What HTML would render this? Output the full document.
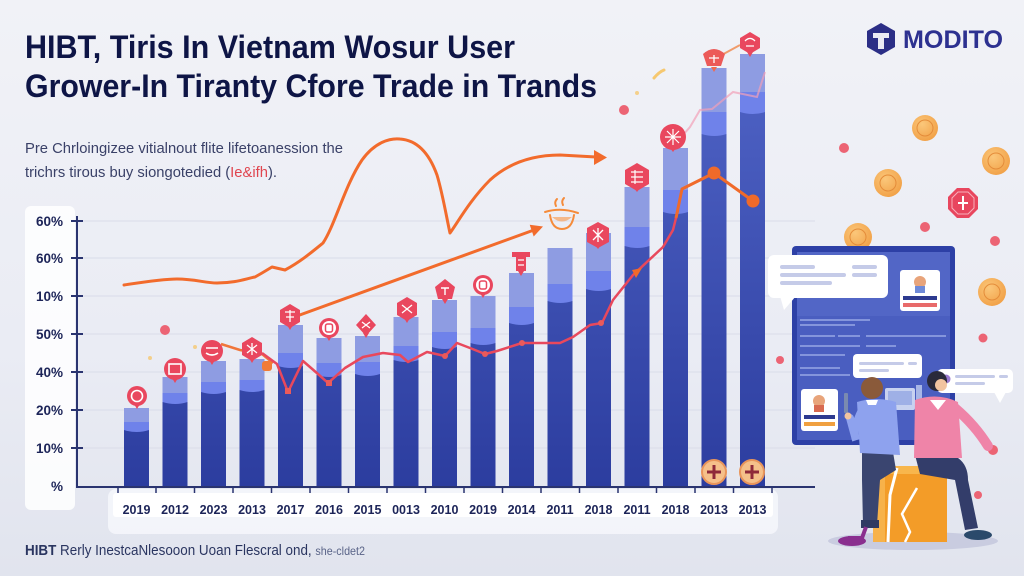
<!DOCTYPE html>
<html><head><meta charset="utf-8"><style>
html,body{margin:0;padding:0;width:1024px;height:576px;overflow:hidden;background:#eceef5}
svg{display:block}
text{font-family:"Liberation Sans",Arial,sans-serif}
</style></head><body>
<svg width="1024" height="576" viewBox="0 0 1024 576" xmlns="http://www.w3.org/2000/svg">
<defs>
<linearGradient id="bg" x1="0" y1="0" x2="0" y2="1"><stop offset="0" stop-color="#f1f2f7"/><stop offset="0.6" stop-color="#eaecf4"/><stop offset="1" stop-color="#e1e4ee"/></linearGradient>
<linearGradient id="dk" gradientUnits="userSpaceOnUse" x1="0" y1="54" x2="0" y2="486"><stop offset="0" stop-color="#5064c6"/><stop offset="1" stop-color="#2c3d9f"/></linearGradient>
<radialGradient id="coin" cx="0.4" cy="0.35" r="0.7"><stop offset="0" stop-color="#fbc77a"/><stop offset="1" stop-color="#f1a046"/></radialGradient>
</defs>
<rect width="1024" height="576" fill="url(#bg)"/>

<!-- Title -->
<text x="25" y="58" font-size="32" font-weight="bold" fill="#0e1546" textLength="490" lengthAdjust="spacingAndGlyphs">HIBT, Tiris In Vietnam Wosur User</text>
<text x="25" y="97" font-size="32" font-weight="bold" fill="#0e1546" textLength="572" lengthAdjust="spacingAndGlyphs">Grower-In Tiranty Cfore Trade in Trands</text>
<text x="25" y="153" font-size="14.5" fill="#3a4168" textLength="318" lengthAdjust="spacingAndGlyphs">Pre Chrloingizee vitialnout flite lifetoanession the</text>
<text x="25" y="177" font-size="14.5" fill="#3a4168" textLength="252" lengthAdjust="spacingAndGlyphs">trichrs tirous buy siongotedied (<tspan fill="#e0454f">Ie&amp;ifh</tspan>).</text>

<!-- Logo -->
<polygon points="881,23 895,31 895,47 881,55 867,47 867,31" fill="#2b2e86"/>
<path d="M873,33 L889,33 L889,38 L884,38 L884,49 L878,49 L878,38 L873,38 Z" fill="#ffffff" opacity="0.9"/>
<text x="903" y="48" font-size="25" font-weight="bold" fill="#2d3190" textLength="100" lengthAdjust="spacingAndGlyphs">MODITO</text>

<!-- Panels -->
<rect x="25" y="206" width="50" height="304" rx="6" fill="#ffffff" opacity="0.85"/>
<rect x="108" y="489" width="670" height="45" rx="8" fill="#f6f7fb" opacity="0.85"/>
<rect x="113" y="493" width="660" height="24" rx="3" fill="#ffffff"/>

<!-- Grid -->
<g stroke="#d9dce9" stroke-width="1">
<line x1="82" y1="221" x2="815" y2="221"/><line x1="82" y1="258" x2="815" y2="258"/>
<line x1="82" y1="296" x2="815" y2="296"/><line x1="82" y1="334" x2="815" y2="334"/>
<line x1="82" y1="372" x2="815" y2="372"/><line x1="82" y1="410" x2="815" y2="410"/>
<line x1="82" y1="448" x2="815" y2="448"/>
</g>

<!-- Y labels -->
<g font-size="13.5" font-weight="bold" fill="#1c2458" text-anchor="end">
<text x="63" y="226">60%</text><text x="63" y="263">60%</text><text x="63" y="301">10%</text>
<text x="63" y="339">50%</text><text x="63" y="377">40%</text><text x="63" y="415">20%</text>
<text x="63" y="453">10%</text><text x="63" y="491">%</text>
</g>

<!-- Bars -->
<g id="bars">
<rect x="124" y="408" width="25" height="78" fill="url(#dk)"/><rect x="124" y="408" width="25" height="14" fill="#8e9ce2"/><path d="M124,422 h25 v8 q-12,4 -25,0 z" fill="#6f82ea"/>
<rect x="162.5" y="377" width="25" height="109" fill="url(#dk)"/><rect x="162.5" y="377" width="25" height="16" fill="#8e9ce2"/><path d="M162.5,393 h25 v9 q-12,4 -25,0 z" fill="#6f82ea"/>
<rect x="201" y="361" width="25" height="125" fill="url(#dk)"/><rect x="201" y="361" width="25" height="21" fill="#8e9ce2"/><path d="M201,382 h25 v10 q-12,4 -25,0 z" fill="#6f82ea"/>
<rect x="239.5" y="359" width="25" height="127" fill="url(#dk)"/><rect x="239.5" y="359" width="25" height="21" fill="#8e9ce2"/><path d="M239.5,380 h25 v10 q-12,4 -25,0 z" fill="#6f82ea"/>
<rect x="278" y="325" width="25" height="161" fill="url(#dk)"/><rect x="278" y="325" width="25" height="28" fill="#8e9ce2"/><path d="M278,353 h25 v13 q-12,4 -25,0 z" fill="#6f82ea"/>
<rect x="316.5" y="338" width="25" height="148" fill="url(#dk)"/><rect x="316.5" y="338" width="25" height="25" fill="#8e9ce2"/><path d="M316.5,363 h25 v12 q-12,4 -25,0 z" fill="#6f82ea"/>
<rect x="355" y="336" width="25" height="150" fill="url(#dk)"/><rect x="355" y="336" width="25" height="26" fill="#8e9ce2"/><path d="M355,362 h25 v12 q-12,4 -25,0 z" fill="#6f82ea"/>
<rect x="393.5" y="317" width="25" height="169" fill="url(#dk)"/><rect x="393.5" y="317" width="25" height="29" fill="#8e9ce2"/><path d="M393.5,346 h25 v14 q-12,4 -25,0 z" fill="#6f82ea"/>
<rect x="432" y="300" width="25" height="186" fill="url(#dk)"/><rect x="432" y="300" width="25" height="32" fill="#8e9ce2"/><path d="M432,332 h25 v15 q-12,4 -25,0 z" fill="#6f82ea"/>
<rect x="470.5" y="296" width="25" height="190" fill="url(#dk)"/><rect x="470.5" y="296" width="25" height="32" fill="#8e9ce2"/><path d="M470.5,328 h25 v15 q-12,4 -25,0 z" fill="#6f82ea"/>
<rect x="509" y="273" width="25" height="213" fill="url(#dk)"/><rect x="509" y="273" width="25" height="34" fill="#8e9ce2"/><path d="M509,307 h25 v16 q-12,4 -25,0 z" fill="#6f82ea"/>
<rect x="547.5" y="248" width="25" height="238" fill="url(#dk)"/><rect x="547.5" y="248" width="25" height="36" fill="#8e9ce2"/><path d="M547.5,284 h25 v17 q-12,4 -25,0 z" fill="#6f82ea"/>
<rect x="586" y="233" width="25" height="253" fill="url(#dk)"/><rect x="586" y="233" width="25" height="38" fill="#8e9ce2"/><path d="M586,271 h25 v18 q-12,4 -25,0 z" fill="#6f82ea"/>
<rect x="624.5" y="187" width="25" height="299" fill="url(#dk)"/><rect x="624.5" y="187" width="25" height="40" fill="#8e9ce2"/><path d="M624.5,227 h25 v19 q-12,4 -25,0 z" fill="#6f82ea"/>
<rect x="663" y="148" width="25" height="338" fill="url(#dk)"/><rect x="663" y="148" width="25" height="42" fill="#8e9ce2"/><path d="M663,190 h25 v22 q-12,4 -25,0 z" fill="#6f82ea"/>
<rect x="701.5" y="68" width="25" height="418" fill="url(#dk)"/><rect x="701.5" y="68" width="25" height="44" fill="#8e9ce2"/><path d="M701.5,112 h25 v22 q-12,4 -25,0 z" fill="#6f82ea"/>
<rect x="740" y="54" width="25" height="432" fill="url(#dk)"/><rect x="740" y="54" width="25" height="38" fill="#8e9ce2"/><path d="M740,92 h25 v20 q-12,4 -25,0 z" fill="#6f82ea"/>
</g>

<!-- Axes -->
<line x1="77" y1="216" x2="77" y2="487" stroke="#2a3470" stroke-width="2"/>
<line x1="76" y1="487" x2="815" y2="487" stroke="#2a3470" stroke-width="2"/>
<g stroke="#2a3470" stroke-width="2">
<line x1="71" y1="221" x2="83" y2="221"/><line x1="71" y1="258" x2="83" y2="258"/><line x1="71" y1="296" x2="83" y2="296"/>
<line x1="71" y1="334" x2="83" y2="334"/><line x1="71" y1="372" x2="83" y2="372"/><line x1="71" y1="410" x2="83" y2="410"/>
<line x1="71" y1="448" x2="83" y2="448"/>
</g>
<g stroke="#2a3470" stroke-width="1.5">
<line x1="118" y1="487" x2="118" y2="493"/><line x1="156" y1="487" x2="156" y2="493"/><line x1="194.5" y1="487" x2="194.5" y2="493"/>
<line x1="233" y1="487" x2="233" y2="493"/><line x1="271.5" y1="487" x2="271.5" y2="493"/><line x1="310" y1="487" x2="310" y2="493"/>
<line x1="348.5" y1="487" x2="348.5" y2="493"/><line x1="387" y1="487" x2="387" y2="493"/><line x1="425.5" y1="487" x2="425.5" y2="493"/>
<line x1="464" y1="487" x2="464" y2="493"/><line x1="502.5" y1="487" x2="502.5" y2="493"/><line x1="541" y1="487" x2="541" y2="493"/>
<line x1="579.5" y1="487" x2="579.5" y2="493"/><line x1="618" y1="487" x2="618" y2="493"/><line x1="656.5" y1="487" x2="656.5" y2="493"/>
<line x1="695" y1="487" x2="695" y2="493"/><line x1="733.5" y1="487" x2="733.5" y2="493"/><line x1="772" y1="487" x2="772" y2="493"/>
</g>

<!-- X labels -->
<g font-size="12.5" font-weight="bold" fill="#1c2458" text-anchor="middle">
<text x="136.5" y="514">2019</text><text x="175" y="514">2012</text><text x="213.5" y="514">2023</text>
<text x="252" y="514">2013</text><text x="290.5" y="514">2017</text><text x="329" y="514">2016</text>
<text x="367.5" y="514">2015</text><text x="406" y="514">0013</text><text x="444.5" y="514">2010</text>
<text x="483" y="514">2019</text><text x="521.5" y="514">2014</text><text x="560" y="514">2011</text>
<text x="598.5" y="514">2018</text><text x="637" y="514">2011</text><text x="675.5" y="514">2018</text>
<text x="714" y="514">2013</text><text x="752.5" y="514">2013</text>
</g>

<!-- Orange upper curve -->
<path d="M124,285 C150,281 165,279 177,279 C195,279 205,283 217,283 C235,283 245,279 255,277 L262,273 L272,267 L285,270 C300,262 312,252 323,243 C335,225 345,185 362,160 C375,142 390,138 400,139 C415,140 428,150 437,175 C443,195 447,220 450,233 C458,222 470,200 490,180 C510,162 535,155 560,155 L596,157" fill="none" stroke="#f26b2c" stroke-width="3" stroke-linecap="round" stroke-linejoin="round"/>
<polygon points="594,150 607,157.5 594,165" fill="#f26b2c"/>
<!-- Orange straight arrow -->
<line x1="297" y1="316" x2="534" y2="230" stroke="#f26b2c" stroke-width="3" stroke-linecap="round"/>
<polygon points="543,226.5 533.7,236.5 529.7,224.8" fill="#f26b2c"/>
<!-- Short orange segment -->
<polyline points="221,344 240,350 262,354 273,363" fill="none" stroke="#f0763a" stroke-width="2.5"/>
<rect x="262" y="361" width="10" height="10" rx="3" fill="#f27b36"/>

<!-- Faint pink line -->
<path d="M683,135 L690,127 L700,110 L712,109 L733,92 L757,97 L765,72" fill="none" stroke="#f2a0b8" stroke-width="2" opacity="0.7"/>
<path d="M718,57 L740,45" stroke="#f0884a" stroke-width="2" opacity="0.8"/>

<!-- Red line -->
<polyline points="262,353 277,364 288,392 303,361 318,374 328,383 345,368 363,357 383,353 400,355 408,362 427,352 445,356 457,343 470,348 485,354 497,351 522,343 560,343 573,337 590,325 602,323 613,300 633,275 663,247 673,230 678,210" fill="none" stroke="#e8485c" stroke-width="2.5" stroke-linejoin="round"/>
<polyline points="676,218 682,189 714,173 753,201" fill="none" stroke="#f06a2a" stroke-width="3" stroke-linejoin="round"/>
<circle cx="714" cy="173" r="6.5" fill="#f06a2a"/>
<circle cx="753" cy="201" r="6.5" fill="#f06a2a"/>
<g fill="#ea5a5a">
<rect x="285" y="388" width="6" height="6"/><rect x="326" y="380" width="6" height="6"/>
<circle cx="445" cy="356" r="3"/><circle cx="485" cy="354" r="3"/><circle cx="522" cy="343" r="3"/><circle cx="601" cy="323" r="3"/>
<polygon points="632,270 642,268 636,278" fill="#f06a2a"/>
</g>

<!-- Markers -->
<g>
<g transform="translate(137,396)"><polygon points="-3,8 3,8 0,13" fill="#e8485c"/><circle r="10" fill="#e9475e"/><circle r="5.5" fill="none" stroke="#fff" stroke-width="1.6"/></g>
<g transform="translate(175,369)"><polygon points="-3,9 3,9 0,14" fill="#e8485c"/><circle r="11" fill="#e9475e"/><rect x="-6" y="-5" width="12" height="10" fill="none" stroke="#fff" stroke-width="1.6"/></g>
<g transform="translate(212,351)"><polygon points="-3,9 3,9 0,14" fill="#e8485c"/><circle r="11" fill="#e9475e"/><path d="M-6,-3 h12 M-6,2 q6,4 12,0" stroke="#fff" stroke-width="1.6" fill="none"/></g>
<g transform="translate(252,349)"><polygon points="-3,9 3,9 0,14" fill="#e8485c"/><polygon points="0,-12 10,-6 10,6 0,12 -10,6 -10,-6" fill="#e9475e"/><path d="M-5,-4 l10,8 M5,-4 l-10,8 M0,-6 v12" stroke="#fff" stroke-width="1.3"/></g>
<g transform="translate(290,316)"><polygon points="-3,9 3,9 0,14" fill="#e8485c"/><polygon points="0,-12 10,-6 10,6 0,12 -10,6 -10,-6" fill="#e9475e"/><path d="M-5,-4 h10 M-4,1 h8 M0,-6 v12" stroke="#fff" stroke-width="1.3"/></g>
<g transform="translate(329,328)"><polygon points="-3,8 3,8 0,13" fill="#e8485c"/><circle r="10" fill="#e9475e"/><circle r="7" fill="#fff"/><rect x="-3.5" y="-4" width="7" height="8" rx="2" fill="none" stroke="#e9475e" stroke-width="1.5"/></g>
<g transform="translate(366,325)"><polygon points="-3,8 3,8 0,13" fill="#e8485c"/><polygon points="0,-11 10,0 0,11 -10,0" fill="#e9475e"/><path d="M-4,-3 l8,6 M4,-3 l-8,6" stroke="#fff" stroke-width="1.3"/></g>
<g transform="translate(407,309)"><polygon points="-3,9 3,9 0,14" fill="#e8485c"/><polygon points="0,-12 10,-6 10,6 0,12 -10,6 -10,-6" fill="#e9475e"/><path d="M-5,-4 l10,8 M5,-4 l-10,8" stroke="#fff" stroke-width="1.3"/></g>
<g transform="translate(445,290)"><polygon points="-3,9 3,9 0,14" fill="#e8485c"/><polygon points="0,-11 10,-3 7,9 -7,9 -10,-3" fill="#e9475e"/><path d="M-4,-2 h8 M0,-2 v7" stroke="#fff" stroke-width="1.4"/></g>
<g transform="translate(483,285)"><polygon points="-3,8 3,8 0,13" fill="#e8485c"/><circle r="10" fill="#e9475e"/><circle r="7" fill="#fff"/><rect x="-3.5" y="-4" width="7" height="8" rx="2" fill="none" stroke="#e9475e" stroke-width="1.5"/></g>
<g transform="translate(521,262)"><polygon points="-3,9 3,9 0,14" fill="#e8485c"/><path d="M-9,-10 h18 v5 h-4 v14 h-10 v-14 h-4 z" fill="#e9475e"/><path d="M-3,-2 h6 M-3,3 h6" stroke="#fff" stroke-width="1.3"/></g>
<g transform="translate(598,235)"><polygon points="-3,10 3,10 0,14" fill="#e8485c"/><polygon points="0,-13 11,-7 11,7 0,13 -11,7 -11,-7" fill="#e9475e"/><path d="M-5,-5 l10,10 M5,-5 l-10,10 M0,-7 v14" stroke="#fff" stroke-width="1.3"/></g>
<g transform="translate(637,177)"><polygon points="-3,11 3,11 0,15" fill="#e8485c"/><polygon points="0,-14 12,-7 12,7 0,14 -12,7 -12,-7" fill="#e9475e"/><path d="M-6,-5 h12 M-6,0 h12 M-6,5 h12 M-2,-7 v14" stroke="#fff" stroke-width="1.2"/></g>
<g transform="translate(673,137)"><polygon points="-3,11 3,11 0,15" fill="#e8485c"/><circle r="13" fill="#e9475e"/><path d="M-6,-6 l12,12 M6,-6 l-12,12 M0,-8 v16 M-8,0 h16" stroke="#fff" stroke-width="1.2"/></g>
<g transform="translate(714,58)"><polygon points="-3,9 3,9 0,14" fill="#f06a50"/><path d="M-11,-4 q11,-10 22,0 l-4,12 h-14 z" fill="#ec5a58"/><path d="M-5,0 h10 M0,-3 v8" stroke="#fff" stroke-width="1.3"/></g>
<g transform="translate(750,43)"><polygon points="-3,9 3,9 0,14" fill="#e8485c"/><polygon points="0,-11 10,-5 10,5 0,11 -10,5 -10,-5" fill="#e9475e"/><path d="M-5,-2 q5,-5 10,0 M-4,3 h8" stroke="#fff" stroke-width="1.3" fill="none"/></g>
</g>

<!-- Orange bowl -->
<g stroke="#f58b3a" stroke-width="2" fill="none" stroke-linecap="round">
<path d="M545,212 Q561,207 578,213"/>
<path d="M550,215 Q552,229 562,229 Q572,229 574,215"/>
<path d="M556,206 q-2,-4 1,-7 M563,205 q-2,-4 1,-7"/>
</g>
<path d="M552,217 Q562,226 572,217 Z" fill="#f8a35e" opacity="0.7"/>

<!-- Coins at bars bottom -->
<g>
<circle cx="714" cy="472" r="12" fill="#f5c08a" stroke="#e9955a" stroke-width="2"/>
<path d="M707,472 h14 M714,465 v14" stroke="#8f2a3a" stroke-width="3"/>
<circle cx="752" cy="472" r="12" fill="#f5c08a" stroke="#e9955a" stroke-width="2"/>
<path d="M745,472 h14 M752,465 v14" stroke="#8f2a3a" stroke-width="3"/>
</g>

<!-- Scattered dots -->
<g fill="#ec6474">
<circle cx="165" cy="330" r="5"/><circle cx="624" cy="110" r="5"/><circle cx="844" cy="148" r="5"/>
<circle cx="925" cy="227" r="5"/><circle cx="995" cy="241" r="5"/><circle cx="983" cy="338" r="4.5"/>
<circle cx="780" cy="360" r="4"/><circle cx="993" cy="450" r="5"/><circle cx="978" cy="495" r="4"/>
</g>
<g fill="#f6c870" opacity="0.8"><circle cx="150" cy="358" r="2"/><circle cx="195" cy="347" r="2"/><circle cx="637" cy="93" r="2"/></g>
<path d="M654,78 q5,-6 10,-8" stroke="#f6c870" stroke-width="3" stroke-linecap="round" fill="none"/>

<!-- Right coins -->
<g>
<circle cx="925" cy="128" r="13" fill="url(#coin)"/><circle cx="925" cy="128" r="8" fill="none" stroke="#e48c3a" stroke-width="1"/>
<circle cx="996" cy="161" r="14" fill="url(#coin)"/><circle cx="996" cy="161" r="8" fill="none" stroke="#e48c3a" stroke-width="1"/>
<circle cx="888" cy="183" r="14" fill="url(#coin)"/><circle cx="888" cy="183" r="8" fill="none" stroke="#e48c3a" stroke-width="1"/>
<circle cx="858" cy="237" r="14" fill="url(#coin)"/><circle cx="858" cy="237" r="8" fill="none" stroke="#e48c3a" stroke-width="1"/>
<circle cx="992" cy="292" r="14" fill="url(#coin)"/><circle cx="992" cy="292" r="8" fill="none" stroke="#e48c3a" stroke-width="1"/>
<polygon points="957,188 969,188 978,197 978,209 969,218 957,218 948,209 948,197" fill="#e8465e"/>
<polygon points="958,192 968,192 974,198 974,208 968,214 958,214 952,208 952,198" fill="none" stroke="#f7b0bb" stroke-width="1"/>
<path d="M963,196 v14 M958,203 h10" stroke="#fff" stroke-width="2"/>
</g>

<!-- Dashboard -->
<rect x="792" y="246" width="163" height="199" rx="4" fill="#2d40a6"/>
<rect x="797" y="252" width="153" height="188" fill="#4a5ec0"/>
<rect x="797" y="252" width="153" height="64" fill="#5266c6"/>
<g fill="#8495dc">
<rect x="800" y="319" width="70" height="2"/><rect x="800" y="324" width="55" height="2"/>
<rect x="800" y="335" width="35" height="2"/><rect x="838" y="335" width="22" height="2"/><rect x="866" y="335" width="80" height="2"/>
<rect x="800" y="345" width="60" height="2"/><rect x="866" y="345" width="30" height="2"/>
<rect x="800" y="354" width="45" height="2"/><rect x="800" y="367" width="40" height="2"/><rect x="800" y="374" width="50" height="2"/>
</g>
<rect x="885" y="388" width="30" height="22" rx="2" fill="#c8d2f0"/>
<rect x="888" y="391" width="24" height="14" fill="#9fb0e6"/>
<rect x="916" y="385" width="6" height="22" fill="#a8b6e6"/>
<!-- speech bubble -->
<rect x="768" y="255" width="120" height="43" rx="6" fill="#ffffff"/>
<polygon points="780,296 796,296 784,310" fill="#ffffff"/>
<g fill="#c5cbe8"><rect x="780" y="265" width="35" height="4" rx="2"/><rect x="852" y="265" width="25" height="4" rx="2"/>
<rect x="780" y="273" width="66" height="4" rx="2"/><rect x="852" y="273" width="25" height="4" rx="2"/><rect x="780" y="281" width="52" height="4" rx="2"/></g>
<!-- cards -->
<rect x="900" y="270" width="40" height="41" rx="3" fill="#ffffff"/>
<circle cx="920" cy="282" r="6" fill="#e8a47a"/><rect x="915" y="286" width="10" height="7" fill="#6f8ad8"/>
<rect x="903" y="296" width="34" height="4" fill="#2d3a90"/><rect x="903" y="303" width="34" height="4" fill="#e86a6a"/>
<rect x="801" y="389" width="37" height="42" rx="3" fill="#ffffff"/>
<circle cx="819" cy="401" r="6" fill="#e8a47a"/><rect x="814" y="405" width="10" height="7" fill="#d86a50"/>
<rect x="804" y="415" width="31" height="4" fill="#2d3a90"/><rect x="804" y="422" width="31" height="4" fill="#f0a040"/>
<!-- middle bubble -->
<rect x="853" y="354" width="69" height="24" rx="4" fill="#ffffff"/>
<g fill="#c5cbe8"><rect x="859" y="362" width="45" height="3" rx="1.5"/><rect x="908" y="362" width="9" height="3" rx="1.5"/><rect x="859" y="369" width="30" height="3" rx="1.5"/></g>
<!-- right bubble -->
<rect x="937" y="369" width="76" height="24" rx="5" fill="#ffffff"/>
<polygon points="994,392 1006,392 1000,403" fill="#ffffff"/>
<circle cx="946" cy="379" r="4.5" fill="#9a7ad0"/>
<g fill="#c5cbe8"><rect x="955" y="375" width="40" height="3" rx="1.5"/><rect x="999" y="375" width="9" height="3" rx="1.5"/><rect x="955" y="382" width="30" height="3" rx="1.5"/></g>

<!-- People scene -->
<ellipse cx="913" cy="541" rx="85" ry="9" fill="#c9cce0"/>
<!-- box -->
<polygon points="880,466 941,466 947,474 873,474" fill="#f8b64c"/>
<rect x="873" y="474" width="74" height="68" fill="#f39c28"/>
<rect x="873" y="474" width="12" height="68" fill="#f7b24a"/>
<path d="M897,468 L890,495 L888,542" stroke="#ffffff" stroke-width="3" fill="none"/>
<path d="M917,488 L902,514 L910,532 L905,542" stroke="#ffffff" stroke-width="2.5" fill="none"/>
<!-- person 1 -->
<path d="M862,452 L893,452 L896,470 L880,480 L877,525 L863,525 L862,480 Z" fill="#3a4570"/>
<rect x="861" y="520" width="18" height="8" fill="#2f3a62"/>
<ellipse cx="852" cy="541" rx="14" ry="5" fill="#8a2f8f"/>
<path d="M866,527 L862,538 L848,538" stroke="#8a2f8f" stroke-width="4" fill="none"/>
<path d="M857,402 Q876,396 896,402 L900,455 L860,453 Z" fill="#8ea2ee"/>
<path d="M862,410 Q852,430 856,440 L850,418" stroke="#8ea2ee" stroke-width="8" fill="none" stroke-linecap="round"/>
<rect x="844" y="393" width="4" height="20" rx="1" fill="#7a8ab0"/>
<circle cx="848" cy="416" r="3.5" fill="#f2c4a0"/>
<path d="M866,400 h12 l-2,5 h-8 z" fill="#ffffff"/>
<circle cx="872" cy="388" r="11" fill="#8a5a3a"/>
<!-- person 2 -->
<path d="M915,455 L958,458 Q968,465 968,480 L978,528 L965,530 L955,480 L920,474 Z" fill="#333d6a"/>
<ellipse cx="978" cy="535" rx="14" ry="5" fill="#2b4a6b"/>
<path d="M915,400 Q937,392 958,402 L962,458 L914,458 Z" fill="#ef84a8"/>
<path d="M955,408 Q975,425 988,446" stroke="#ef84a8" stroke-width="10" fill="none" stroke-linecap="round"/>
<path d="M930,400 L938,410 L946,400 Z" fill="#ffffff"/>
<circle cx="937" cy="381" r="10" fill="#2a2a3a"/>
<circle cx="941" cy="385" r="6" fill="#f2c4a0"/>

<!-- Footer -->
<text x="25" y="555" font-size="15" fill="#2a3560" textLength="340" lengthAdjust="spacingAndGlyphs"><tspan font-weight="bold">HIBT</tspan> Rerly InestcaNlesooon Uoan Flescral ond, <tspan font-size="12" fill="#5a6488">she-cldet2</tspan></text>
</svg>
</body></html>
